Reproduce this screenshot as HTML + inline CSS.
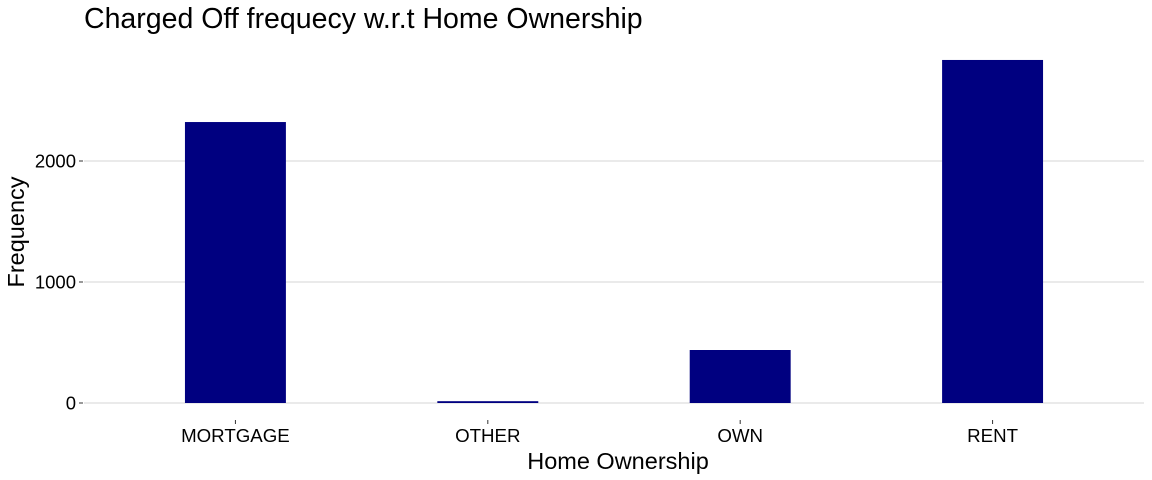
<!DOCTYPE html>
<html><head><meta charset="utf-8"><style>
body{margin:0;background:#fff;}
svg{display:block;font-family:"Liberation Sans",sans-serif;}
</style></head><body>
<svg id="chart" width="1152" height="480">
<text x="84" y="28" font-size="28.5" fill="#000">Charged Off frequecy w.r.t Home Ownership</text>
<g id="grid"></g><g id="bars"></g><g id="axes"></g>
<text x="618" y="469" font-size="23.5" text-anchor="middle" fill="#000">Home Ownership</text>
<text transform="translate(24,232) rotate(-90)" font-size="23.5" text-anchor="middle" fill="#000">Frequency</text>
</svg>
<script>
const categories=["MORTGAGE","OTHER","OWN","RENT"];
const counts=[2322,15,438,2835];
const yTicks=[0,1000,2000];
const ns="http://www.w3.org/2000/svg";
const x0=84,x1=1144,y0=403,pxPer=0.121;
const band=(x1-x0)/(categories.length-1+1.2);
function xc(i){return x0+band*(0.6+i);}
function y(v){return y0-v*pxPer;}
function mk(t,a,p){const e=document.createElementNS(ns,t);for(const k in a)e.setAttribute(k,a[k]);p.appendChild(e);return e;}
const grid=document.getElementById('grid'),bars=document.getElementById('bars'),axes=document.getElementById('axes');
yTicks.forEach(v=>{
 const l=mk('line',{x1:x0,x2:x1,y1:y(v),y2:y(v),stroke:'#d4d4d4','stroke-width':1},grid);
 
 
 const tk=mk('line',{x1:79,x2:83,y1:y(v),y2:y(v),stroke:'#333','stroke-width':1},axes);
 
 
 const t=mk('text',{x:76,y:y(v)+6.5,'font-size':18.5,'text-anchor':'end',fill:'#000'},axes);
 t.textContent=v;
 
 
});
categories.forEach((c,i)=>{
 const w=band*0.4;
 const r=mk('rect',{x:xc(i)-w/2,y:y(counts[i]),width:w,height:counts[i]*pxPer,fill:'#000080'},bars);
 
 
 const tk=mk('line',{x1:xc(i),x2:xc(i),y1:420,y2:424,stroke:'#333','stroke-width':1},axes);
 
 
 const t=mk('text',{x:xc(i),y:442,'font-size':18.7,'text-anchor':'middle',fill:'#000'},axes);
 t.textContent=c;
 
 
});
</script>
</body></html>
